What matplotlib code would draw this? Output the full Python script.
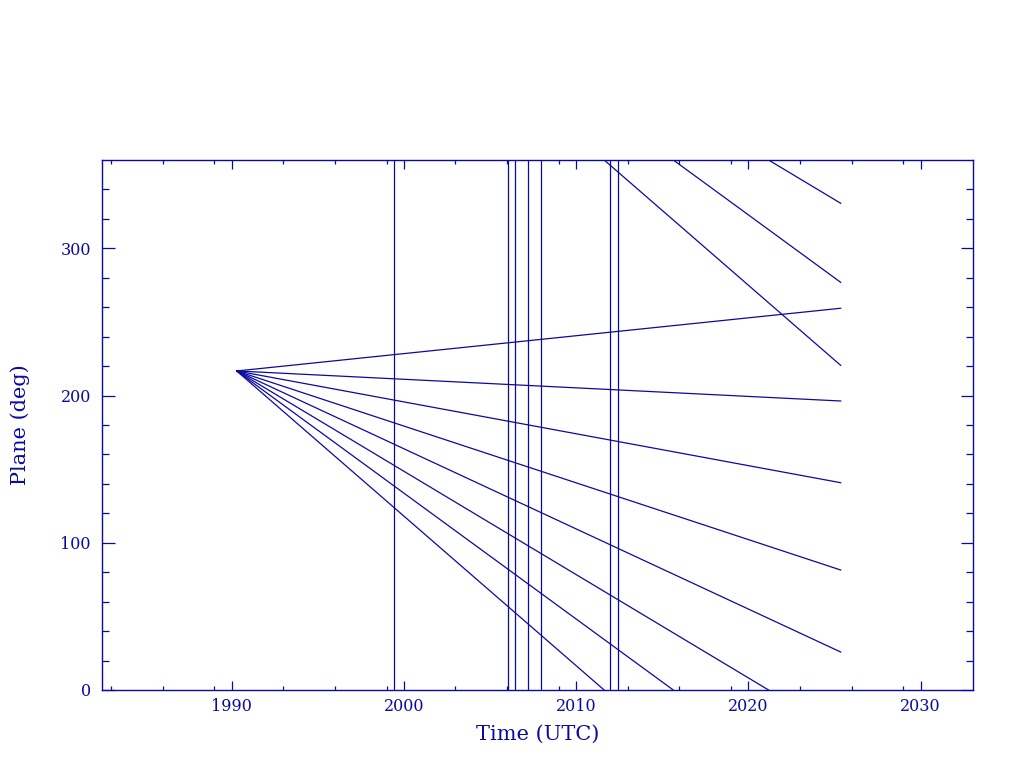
import numpy as np
import matplotlib
matplotlib.use("Agg")
import matplotlib.pyplot as plt

# ---- data ----
start_year = 1990.3
start_plane = 216.7
end_year = 2025.36
# unwrapped end values of each orbital-plane line (deg)
end_planes = [259.3, 196.3, 140.8, 81.5, 25.8, -29.4, -83.1, -139.5]
# vertical event lines (decimal years)
event_years = [1999.45, 2006.03, 2006.47, 2007.23, 2007.98, 2011.97, 2012.45]

x_major = [1990, 2000, 2010, 2020, 2030]
x_minor = [1983, 1986, 1989, 1993, 1996, 1999, 2003, 2006, 2009,
           2013, 2016, 2019, 2023, 2026, 2029]
y_major = [0, 100, 200, 300]
y_minor = [20, 40, 60, 80, 120, 140, 160, 180, 220, 240, 260, 280, 320, 340]

col = '#0a0aa0'
plt.rcParams['font.family'] = ['DejaVu Serif']

fig = plt.figure(figsize=(10.24, 7.68), dpi=100)
ax = fig.add_axes([102/1024, 1-690/768, (973-102)/1024, (690-160)/768])

for ev in event_years:
    ax.axvline(ev, color=col, lw=0.9)

for endv in end_planes:
    t = np.linspace(start_year, end_year, 2000)
    v = start_plane + (endv - start_plane) * (t - start_year) / (end_year - start_year)
    w = np.mod(v, 360.0)
    jumps = np.where(np.abs(np.diff(w)) > 180)[0]
    t = np.insert(t, jumps + 1, np.nan)
    w = np.insert(w, jumps + 1, np.nan)
    ax.plot(t, w, color=col, lw=0.9)

ax.set_xlim(1982.48, 2033.04)
ax.set_ylim(0, 360)
ax.set_xticks(x_major)
ax.set_xticks(x_minor, minor=True)
ax.set_yticks(y_major)
ax.set_yticks(y_minor, minor=True)
ax.set_xticklabels([str(v) for v in x_major])
ax.set_yticklabels([str(v) for v in y_major])

ax.tick_params(axis='x', which='major', direction='in', length=6.2, width=0.9,
               color=col, labelcolor=col, top=True, bottom=True, labelsize=11.5, pad=6)
ax.tick_params(axis='x', which='minor', direction='in', length=3, width=0.9,
               color=col, top=True, bottom=True)
ax.tick_params(axis='y', which='major', direction='in', length=9, width=0.9,
               color=col, labelcolor=col, left=True, right=True, labelsize=11.5, pad=8)
ax.tick_params(axis='y', which='minor', direction='in', length=5, width=0.9,
               color=col, left=True, right=True)
for s in ax.spines.values():
    s.set_color(col)
    s.set_linewidth(1.0)

ax.set_xlabel('Time (UTC)', color=col, fontsize=15, labelpad=7)
ax.set_ylabel('Plane (deg)', color=col, fontsize=15, labelpad=22)

fig.savefig('out.png', dpi=100)
